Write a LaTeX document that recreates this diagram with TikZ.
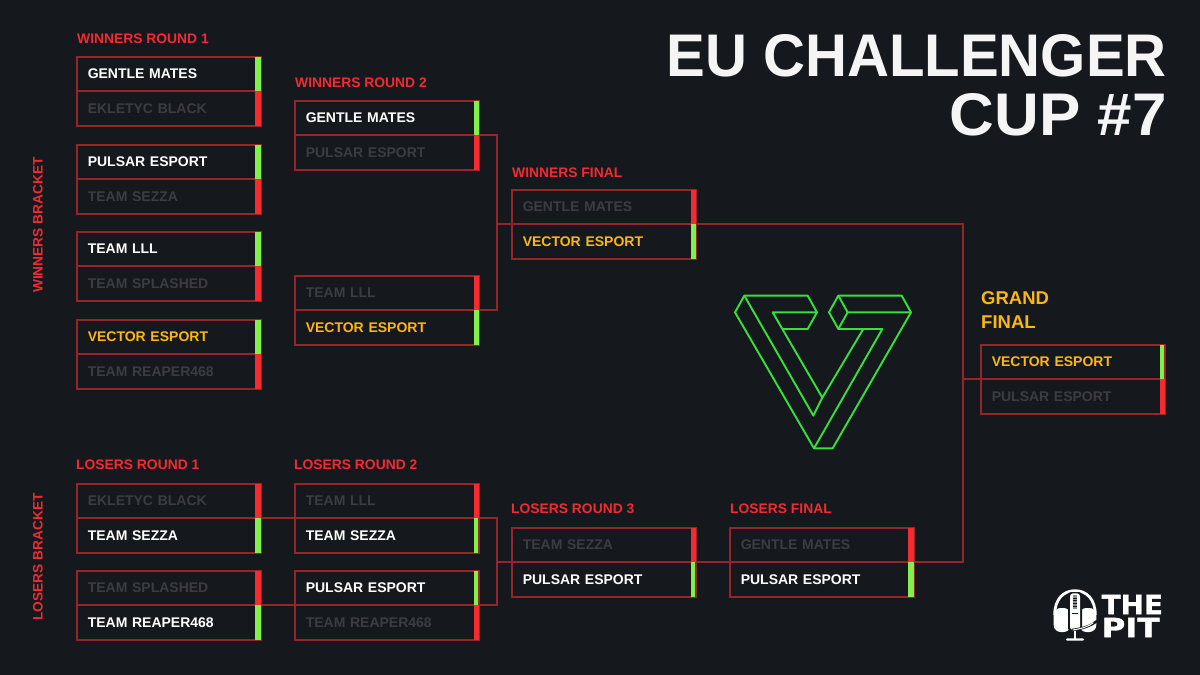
\documentclass[tikz,border=0pt]{standalone}
\usepackage{fontspec}
\usepackage{graphicx}
\setmainfont{Liberation Sans}
\newfontfamily\logofont[BoldFeatures={FakeBold=1.2}]{DejaVu Sans}
\definecolor{bgc}{HTML}{15181C}
\definecolor{edgec}{HTML}{96252A}
\definecolor{redc}{HTML}{F02C32}
\definecolor{barred}{HTML}{F62B2F}
\definecolor{bargreen}{HTML}{82F04C}
\definecolor{dimc}{HTML}{3B3D41}
\definecolor{amberc}{HTML}{FDB714}
\definecolor{titlec}{HTML}{F5F5F5}
\definecolor{logoc}{HTML}{34E23A}
\definecolor{grillec}{HTML}{8A8C8E}
\tikzset{
  rowbox/.style={draw=edgec,line width=1.7pt,minimum width=184pt,
    text width=162.5pt,inner xsep=10.75pt,inner ysep=0pt,outer sep=0pt,align=left,anchor=north west,
    font=\bfseries\fontsize{14}{16}\selectfont},
  headtext/.style={anchor=base west,inner sep=0pt,text=redc,font=\bfseries\fontsize{13.85}{16}\selectfont},
  sidetext/.style={rotate=90,inner sep=0pt,text=redc,font=\bfseries\fontsize{13.7}{16}\selectfont},
  wire/.style={draw=edgec,line width=1.7pt},
  logoline/.style={draw=logoc,line width=1.9pt,line join=round},
}
\newcommand{\matchbox}[7]{%
  \node[rowbox,minimum height=34pt,text=#5] (#1t) at (#2,#3) {#4};
  \node[rowbox,minimum height=35pt,text=#7] (#1b) at (#2,#3+34) {#6};
}
\newcommand{\bars}[5]{%
  \fill[#2] ([xshift=-#3pt]#1t.north east) rectangle (#1t.south east);
  \fill[#4] ([xshift=-#5pt]#1b.north east) rectangle (#1b.south east);
}
\begin{document}
\begin{tikzpicture}[x=1pt,y=-1pt]
\useasboundingbox[fill=bgc] (0,0) rectangle (1200,675);
% title
\node[anchor=east,inner sep=0pt,align=right,text=titlec,
  font=\bfseries\fontsize{59}{59.4}\selectfont] (title) at (1167,85) {\scalebox{.985}[1.02]{EU CHALLENGER}\\\scalebox{1.05}[1.02]{CUP \#7}};
% headings
\node[headtext] (h1) at (77,43) {WINNERS ROUND 1};
\node[headtext] (h2) at (295,87.5) {WINNERS ROUND 2};
\node[headtext] (h3) at (512,177) {WINNERS FINAL};
\node[headtext] (h4) at (76,469.5) {LOSERS ROUND 1};
\node[headtext] (h5) at (294,469.5) {LOSERS ROUND 2};
\node[headtext] (h6) at (511,513) {LOSERS ROUND 3};
\node[headtext] (h7) at (730,513) {LOSERS FINAL};
\node[anchor=west,inner sep=0pt,align=left,text=amberc,
  font=\bfseries\fontsize{18.5}{23.7}\selectfont] (h8) at (981,310) {GRAND\\FINAL};
\node[sidetext] (s1) at (38,225) {WINNERS BRACKET};
\node[sidetext] (s2) at (38,557) {LOSERS BRACKET};
% matches
\matchbox{wa}{77}{57}{GENTLE MATES}{white}{EKLETYC BLACK}{dimc}
\matchbox{wb}{77}{145}{PULSAR ESPORT}{white}{TEAM SEZZA}{dimc}
\matchbox{wc}{77}{232}{TEAM LLL}{white}{TEAM SPLASHED}{dimc}
\matchbox{wd}{77}{320}{VECTOR ESPORT}{amberc}{TEAM REAPER468}{dimc}
\matchbox{xa}{295}{101}{GENTLE MATES}{white}{PULSAR ESPORT}{dimc}
\matchbox{xb}{295}{276}{TEAM LLL}{dimc}{VECTOR ESPORT}{amberc}
\matchbox{wf}{512}{190}{GENTLE MATES}{dimc}{VECTOR ESPORT}{amberc}
\matchbox{la}{77}{484}{EKLETYC BLACK}{dimc}{TEAM SEZZA}{white}
\matchbox{lb}{77}{571}{TEAM SPLASHED}{dimc}{TEAM REAPER468}{white}
\matchbox{ma}{295}{484}{TEAM LLL}{dimc}{TEAM SEZZA}{white}
\matchbox{mb}{295}{571}{PULSAR ESPORT}{white}{TEAM REAPER468}{dimc}
\matchbox{na}{512}{528}{TEAM SEZZA}{dimc}{PULSAR ESPORT}{white}
\matchbox{lf}{730}{528}{GENTLE MATES}{dimc}{PULSAR ESPORT}{white}
\matchbox{gf}{981}{345}{VECTOR ESPORT}{amberc}{PULSAR ESPORT}{dimc}
% connectors
\coordinate (jw) at (497,224);
\coordinate (jl) at (497,562);
\coordinate (jg) at (963,379);
\draw[wire] (xat.south east) -| (jw) |- (xbt.south east);
\draw[wire] (jw) -- (wft.south west);
\draw[wire] (lat.south east) -- (mat.south west);
\draw[wire] (lbt.south east) -- (mbt.south west);
\draw[wire] (mat.south east) -| (jl) |- (mbt.south east);
\draw[wire] (jl) -- (nat.south west);
\draw[wire] (nat.south east) -- (lft.south west);
\draw[wire] (wft.south east) -| (jg) |- (lft.south east);
\draw[wire] (jg) -- (gft.south west);
% result bars
\bars{wa}{bargreen}{6.5}{barred}{6.5}
\bars{wb}{bargreen}{6.5}{barred}{6.5}
\bars{wc}{bargreen}{6.5}{barred}{6.5}
\bars{wd}{bargreen}{6.5}{barred}{6.5}
\bars{xa}{bargreen}{5.5}{barred}{5.5}
\bars{xb}{barred}{5.5}{bargreen}{5.5}
\bars{wf}{barred}{5.5}{bargreen}{5.5}
\bars{la}{barred}{6.5}{bargreen}{6.5}
\bars{lb}{barred}{6.5}{bargreen}{6.5}
\fill[barred] ([xshift=-5.5pt]mat.north east) rectangle (mat.south east);
\fill[bargreen] ([xshift=-5.5pt]mab.north east) rectangle ([xshift=-1.3pt]mab.south east);
\fill[bargreen] ([xshift=-5.5pt]mbt.north east) rectangle ([xshift=-1.3pt]mbt.south east);
\fill[barred] ([xshift=-5.5pt]mbb.north east) rectangle (mbb.south east);
\fill[barred] ([xshift=-5.5pt]nat.north east) rectangle (nat.south east);
\fill[bargreen] ([xshift=-5.5pt]nab.north east) rectangle ([xshift=-.8pt]nab.south east);
\bars{lf}{barred}{6.5}{bargreen}{6.5}
\fill[bargreen] ([xshift=-5.5pt]gft.north east) rectangle ([xshift=-.8pt]gft.south east);
\fill[barred] ([xshift=-5.5pt]gfb.north east) rectangle (gfb.south east);
% V logo
\begin{scope}[shift={(720,280)},x=.3333pt,y=-.3333pt]
\draw[logoline] (73,47)--(263,47)--(291,97)--(263,147)--(187,147)--(307,353)--(430,147)--(355,147)--(327,97)--(355,47)--(545,47)--(573,97)--(338,505)--(282,505)--(45,97)--cycle;
\draw[logoline] (73,47)--(280,407)--(307,353);
\draw[logoline] (291,97)--(158,97)--(187,147);
\draw[logoline] (355,47)--(383,97)--(573,97);
\draw[logoline] (383,97)--(355,147);
\draw[logoline] (430,147)--(487,147)--(282,505);
\end{scope}
% The Pit logo
\begin{scope}[shift={(1040,580)},x=.3333pt,y=-.3333pt]
\draw[white,line width=2.8pt] (44,105) .. controls (44,58) and (70,32) .. (105,32) .. controls (140,32) and (166,58) .. (166,105);
\fill[white,rounded corners=7pt] (41,84) rectangle (92,156);
\fill[white,rounded corners=7pt] (118,84) rectangle (169,156);
\fill[bgc,rounded corners=3pt] (84,36) rectangle (126,154);
\fill[white,rounded corners=3pt] (90,40) rectangle (120,150);
\fill[grillec] (98,46) rectangle (112,88);
\draw[bgc,line width=.5pt] (98,54)--(112,54) (98,62)--(112,62) (98,70)--(112,70) (98,78)--(112,78);
\draw[bgc,line width=.8pt] (97,100)--(113,100);
\draw[white,line width=1.5pt] (105,152)--(105,178);
\fill[white,rounded corners=1pt] (78,175) rectangle (132,182);
\draw[bgc,line width=2.4pt] (172,122) .. controls (150,140) and (125,146) .. (95,150);
\draw[white,line width=1pt] (160,128) .. controls (145,140) and (125,146) .. (98,150);
\end{scope}
\node[anchor=west,inner sep=0pt,align=left,text=white,font=\logofont\bfseries\fontsize{26.5}{23}\selectfont] (thepit) at (1101.5,616) {\scalebox{1.05}[1]{THE}\\\scalebox{1.22}[1]{PIT}};
\end{tikzpicture}
\end{document}
